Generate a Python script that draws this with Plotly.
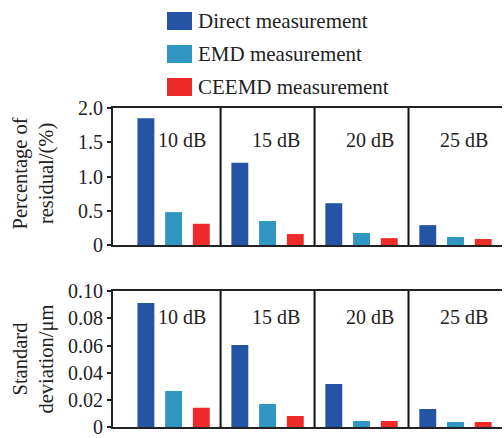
import plotly.graph_objects as go
from plotly.subplots import make_subplots

groups = ["10 dB", "15 dB", "20 dB", "25 dB"]
series = ["Direct measurement", "EMD measurement", "CEEMD measurement"]
colors = ["#2554A4", "#3096C2", "#EE2B2B"]

residual_direct = [1.85, 1.20, 0.61, 0.29]
residual_emd = [0.48, 0.35, 0.175, 0.117]
residual_ceemd = [0.31, 0.16, 0.10, 0.088]

std_direct = [0.0912, 0.0604, 0.0318, 0.0134]
std_emd = [0.0266, 0.0171, 0.0046, 0.0039]
std_ceemd = [0.0144, 0.0083, 0.0046, 0.0039]

top_ticks = [0, 0.5, 1.0, 1.5, 2.0]
top_ticktext = ["0", "0.5", "1.0", "1.5", "2.0"]
bot_ticks = [0, 0.02, 0.04, 0.06, 0.08, 0.10]
bot_ticktext = ["0", "0.02", "0.04", "0.06", "0.08", "0.10"]

FONT = "Liberation Serif, Times New Roman, serif"
W, H = 504, 438

fig = make_subplots(rows=2, cols=1)
xs = list(range(len(groups)))
for vals, name, c in zip([residual_direct, residual_emd, residual_ceemd], series, colors):
    fig.add_trace(go.Bar(x=xs, y=vals, name=name, marker=dict(color=c, line=dict(width=0)),
                         showlegend=False), row=1, col=1)
for vals, name, c in zip([std_direct, std_emd, std_ceemd], series, colors):
    fig.add_trace(go.Bar(x=xs, y=vals, name=name, marker=dict(color=c, line=dict(width=0)),
                         showlegend=False), row=2, col=1)

xdom = [113 / W, 502 / W]
top_dom = [1 - 245 / H, 1 - 108 / H]
bot_dom = [1 - 427.3 / H, 1 - 291 / H]
xr = [-0.645, 3.495]

axis_common = dict(showline=True, linecolor="#222", linewidth=2, showgrid=False, zeroline=False,
                   automargin=False)
fig.update_xaxes(domain=xdom, range=xr, showticklabels=False, ticks="", mirror=True, **axis_common)
fig.update_yaxes(ticks="outside", ticklen=4, tickwidth=1.5, tickcolor="#222", ticklabeloverflow="allow",
                 tickfont=dict(family=FONT, size=20, color="#222"), **axis_common)
fig.update_yaxes(domain=top_dom, range=[0, 2.0], tickvals=top_ticks, ticktext=top_ticktext, row=1, col=1)
fig.update_yaxes(domain=bot_dom, range=[0, 0.10], tickvals=bot_ticks, ticktext=bot_ticktext, row=2, col=1)

shapes = []
annotations = []
for xref, yref in [("x", "y domain"), ("x2", "y2 domain")]:
    for d in [0.5, 1.5, 2.5]:
        shapes.append(dict(type="line", xref=xref, yref=yref, x0=d, x1=d, y0=0, y1=1,
                           line=dict(color="#111", width=2)))
for i, g in enumerate(groups):
    annotations.append(dict(text=g, x=i + 0.09, xref="x", y=0.763, yref="y domain",
                            showarrow=False, font=dict(family=FONT, size=20, color="#222"),
                            xanchor="center", yanchor="middle"))
    annotations.append(dict(text=g, x=i + 0.09, xref="x2", y=0.809, yref="y2 domain",
                            showarrow=False, font=dict(family=FONT, size=20, color="#222"),
                            xanchor="center", yanchor="middle"))

annotations.append(dict(text="Percentage of<br>residual/(%)", x=33.5 / W, y=1 - 174 / H,
                        xref="paper", yref="paper", textangle=-90, showarrow=False,
                        font=dict(family=FONT, size=20.5, color="#222"), xanchor="center", yanchor="middle"))
annotations.append(dict(text="Standard<br>deviation/μm", x=33.5 / W, y=1 - 359 / H,
                        xref="paper", yref="paper", textangle=-90, showarrow=False,
                        font=dict(family=FONT, size=20.5, color="#222"), xanchor="center", yanchor="middle"))

row_centers = [21, 54, 87]
for name, c, yc in zip(series, colors, row_centers):
    shapes.append(dict(type="rect", xref="paper", yref="paper", x0=167 / W, x1=192 / W,
                       y0=1 - (yc + 9) / H, y1=1 - (yc - 9) / H, fillcolor=c, line=dict(width=0)))
    annotations.append(dict(text=name, x=196 / W, y=1 - yc / H, xref="paper", yref="paper",
                            showarrow=False, xanchor="left", yanchor="middle",
                            font=dict(family=FONT, size=21, color="#222")))

fig.update_layout(width=W, height=H, margin=dict(l=0, r=0, t=0, b=0, pad=0, autoexpand=False),
                  plot_bgcolor="white", paper_bgcolor="white",
                  barmode="group", bargap=0.115, bargroupgap=0.39,
                  shapes=shapes, annotations=annotations, showlegend=False,
                  font=dict(family=FONT, size=20, color="#222"))

post = ("document.body.style.margin='0';document.body.style.padding='0';"
        "document.body.style.overflow='hidden';document.documentElement.style.overflow='hidden';")
fig.write_html("out.html", post_script=post, config={"displayModeBar": False})
